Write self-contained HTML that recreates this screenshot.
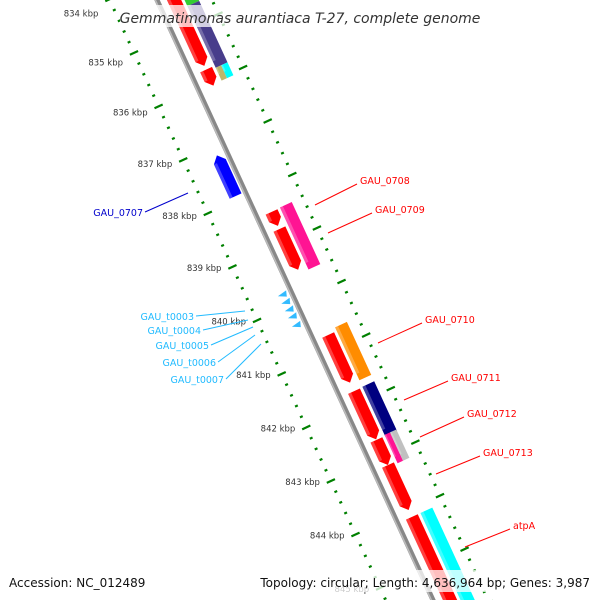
<!DOCTYPE html>
<html><head><meta charset="utf-8"><style>
html,body{margin:0;padding:0;background:#fff;overflow:hidden;width:600px;height:600px}
svg{display:block;font-family:"DejaVu Sans","Liberation Sans",sans-serif;overflow:hidden}
</style></head><body>
<svg id="map" width="600" height="600" viewBox="0 0 600 600">
<g id="rot" transform="translate(157,0) rotate(-24.7)"></g>
<g id="labels"></g>
<rect x="120" y="5" width="362" height="22" fill="#fff" fill-opacity="0.75"/>
<text x="300" y="23" text-anchor="middle" font-style="italic" font-size="14" fill="#333">Gemmatimonas aurantiaca T-27, complete genome</text>
<rect x="4" y="570" width="592" height="22" fill="#fff" fill-opacity="0.75"/>
<text x="9" y="587" font-size="12" fill="#111">Accession: NC_012489</text>
<text x="590" y="587" text-anchor="end" font-size="12" fill="#111">Topology: circular; Length: 4,636,964 bp; Genes: 3,987</text>
</svg>
<script>
// data
const tickKbp=[833,834,835,836,837,838,839,840,841,842,843,844,845,846];
const geneNames=["g-green","g-slate","g-red-a","g-red-b","g-olive","g-cyan-s","GAU_0707","GAU_0708a","GAU_0708","GAU_0709","GAU_0710a","GAU_0710","GAU_0711a","GAU_0711","GAU_0712a","GAU_0712","GAU_0713a","GAU_0713","atpA-a","atpA"];
const geneStart=[833.5,834.66,833.5,835.77,835.81,835.81,837.17,838.43,838.75,838.42,840.73,840.66,841.78,841.77,842.67,842.67,842.69,843.16,844.13,844.13];
const geneEnd=[834.66,835.81,835.70,836.07,836.05,836.05,837.93,838.69,839.51,839.58,841.62,841.65,842.68,842.70,843.20,843.20,843.16,844.0,846.5,846.5];
const geneLane=["2","2","1","1","2a","2b","L","1","1","2","1","2","1","2","2a","2b","1","1","1","2"];
const geneArrow=[0,0,1,1,0,0,-1,1,1,0,1,0,1,0,0,0,1,1,1,0];
const geneColor=["#33cc33","#483D8B","#ff0000","#ff0000","#BDB76B","#00ffff","#0000ff","#ff0000","#ff0000","#ff1493","#ff0000","#ff8c00","#ff0000","#000080","#ff1493","#c0c0c0","#ff0000","#ff0000","#ff0000","#00ffff"];
const trnaKbp=[839.81,839.95,840.09,840.22,840.38];
const trnaNames=["GAU_t0003","GAU_t0004","GAU_t0005","GAU_t0006","GAU_t0007"];

const NS="http://www.w3.org/2000/svg";
const rot=document.getElementById('rot'), lab=document.getElementById('labels');
function U(k){return 274+58.9*(k-839);}
function X(u,v){return 157+0.418*u+0.9085*v;}
function Y(u,v){return 0.9085*u-0.418*v;}
function mk(tag,attrs,parent){const e=document.createElementNS(NS,tag);for(const a in attrs)e.setAttribute(a,attrs[a]);parent.appendChild(e);return e;}
const lanes={"1":[9,22],"2":[25,38],"2a":[25,31],"2b":[31,38],"L":[-17,-4]};

// backbone
let bb=mk('line',{x1:0,y1:-100,x2:0,y2:700,stroke:'#888','stroke-width':5},rot);


let bb2=mk('line',{x1:-1.5,y1:-100,x2:-1.5,y2:700,stroke:'#bbb','stroke-width':1.5},rot);



// ticks
for(let k=tickKbp[0];k<=tickKbp[tickKbp.length-1]+0.001;k+=0.2){
  const kk=Math.round(k*10)/10, major=Math.abs(kk-Math.round(kk))<0.01, u=U(kk);
  [-43,50].forEach(v=>{
    const len=major?4.5:1.5;
    const t=mk('line',{x1:v-len,y1:u,x2:v+len,y2:u,stroke:'#008000','stroke-width':2.2},rot);
    
    
  });
}
tickKbp.forEach(k=>{
  const u=U(k); const x=X(u,-43), y=Y(u,-43);
  const dy = k<839 ? 5+0.48*(839-k)*(839-k) : 4;
  if(y+dy<5||y>600)return;
  const t=mk('text',{x:x-11,y:y+dy,'text-anchor':'end','font-size':8.5,fill:'#333'},lab);
  t.textContent=k+' kbp';
  
  
});

// genes
geneNames.forEach((n,i)=>{
  const [a,b]=lanes[geneLane[i]]; const u0=U(geneStart[i]), u1=U(geneEnd[i]); const h=7, m=(a+b)/2;
  let pts;
  if(geneArrow[i]===1) pts=[[a,u0],[b,u0],[b,u1-h],[m,u1],[a,u1-h]];
  else if(geneArrow[i]===-1) pts=[[m,u0],[b,u0+h],[b,u1],[a,u1],[a,u0+h]];
  else pts=[[a,u0],[b,u0],[b,u1],[a,u1]];
  const p=mk('polygon',{points:pts.map(q=>q.join(',')).join(' '),fill:geneColor[i]},rot);
  
  
  const hl=mk('rect',{x:a,y:u0+(geneArrow[i]===-1?h:0),width:(b-a)*0.25,height:Math.max(0,u1-u0-h),fill:'#fff','fill-opacity':0.25},rot);
  
  
});
trnaKbp.forEach((k,i)=>{
  const u=U(k);
  const p=mk('polygon',{points:`-14,${u-2} -4,${u-4} -6,${u+2}`,fill:'#33bbff'},rot);
  
  
});

// feature labels
const labText=["GAU_0708","GAU_0709","GAU_0710","GAU_0711","GAU_0712","GAU_0713","atpA","GAU_0707","GAU_t0003","GAU_t0004","GAU_t0005","GAU_t0006","GAU_t0007"];
const labColor=["red","red","red","red","red","red","red","#0000cc","#22bbff","#22bbff","#22bbff","#22bbff","#22bbff"];
const lx1=[315,328,378,404,420,436,465,188,245,248,253,255,261];
const ly1=[205,233,343,400,437,474,547,193,311,320,327,335,344];
const lx2=[357,372,422,448,464,480,510,145,196,203,211,218,226];
const ly2=[184,213,323,381,417,456,529,212,316,330,345,362,379];
labText.forEach((t,i)=>{
  const l=mk('line',{x1:lx1[i],y1:ly1[i],x2:lx2[i],y2:ly2[i],stroke:labColor[i],'stroke-width':1},lab);
  
  
  const right=lx2[i]>lx1[i];
  const e=mk('text',{x:right?lx2[i]+3:lx2[i]-2,y:ly2[i]+(right?0:4),'text-anchor':right?'start':'end','font-size':9.5,fill:labColor[i]},lab);
  e.textContent=t;
  
  
});
</script>
</body></html>
